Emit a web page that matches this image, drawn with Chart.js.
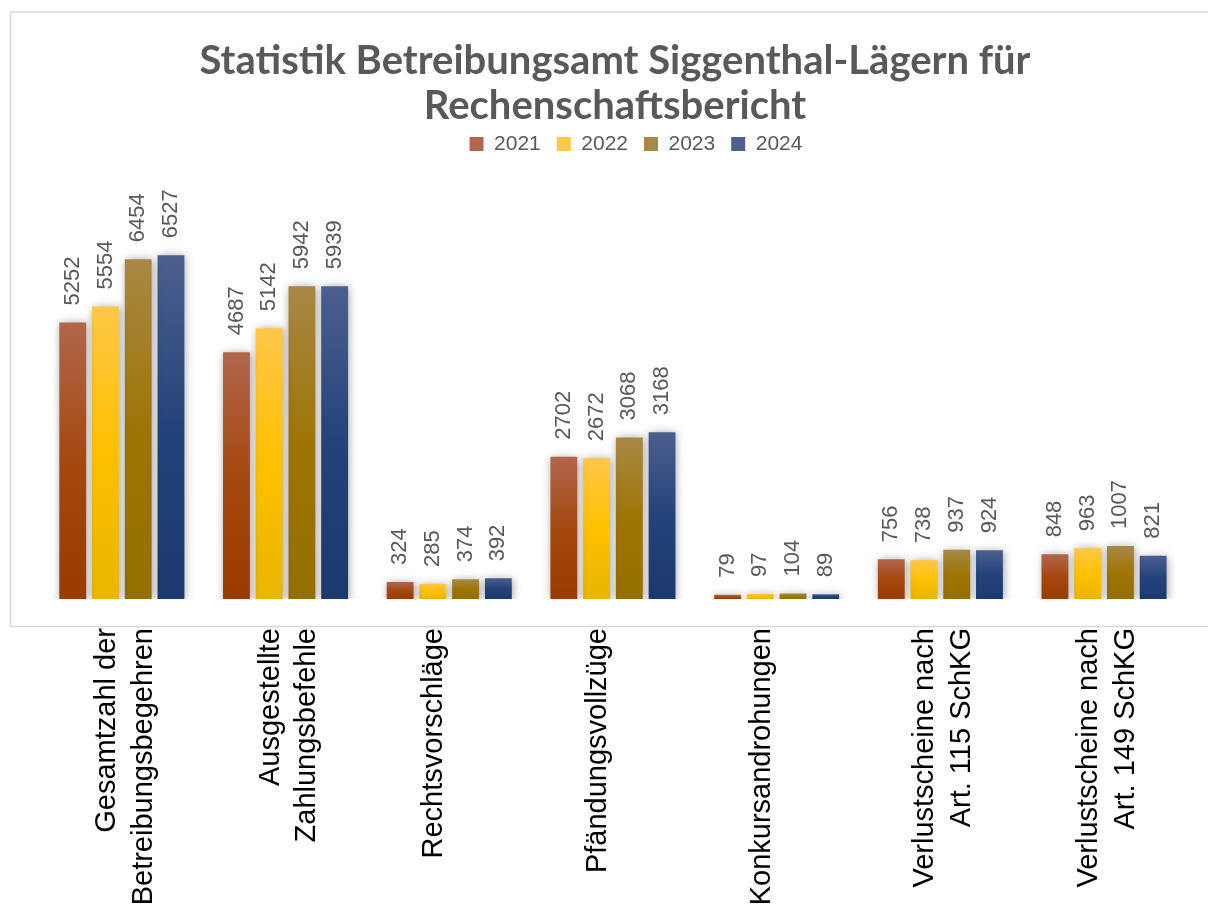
<!DOCTYPE html>
<html>
<head>
<meta charset="utf-8">
<script src="https://cdn.jsdelivr.net/npm/chart.js@4.4.1/dist/chart.umd.min.js"></script>
<style>
  html, body { margin: 0; padding: 0; background: #fff; }
  #wrap { width: 1208px; height: 906px; }
</style>
</head>
<body>
<div id="wrap"><canvas id="betreibungChart" width="1208" height="906"></canvas></div>
<script>
const categories = [
  ["Gesamtzahl der", "Betreibungsbegehren"],
  ["Ausgestellte", "Zahlungsbefehle"],
  "Rechtsvorschläge",
  "Pfändungsvollzüge",
  "Konkursandrohungen",
  ["Verlustscheine nach", "Art. 115 SchKG"],
  ["Verlustscheine nach", "Art. 149 SchKG"]
]
const years = ["2021", "2022", "2023", "2024"]
const values2021 = [5252, 4687, 324, 2702, 79, 756, 848]
const values2022 = [5554, 5142, 285, 2672, 97, 738, 963]
const values2023 = [6454, 5942, 374, 3068, 104, 937, 1007]
const values2024 = [6527, 5939, 392, 3168, 89, 924, 821]

// top tint, base, bottom shade
const shades = [
  ["#B1664C", "#A5480F", "#9A3B00"],
  ["#FFC748", "#FFC000", "#E8B600"],
  ["#A88845", "#9E7505", "#946F00"],
  ["#4C5F8F", "#24437A", "#1B396E"]
]

const gradientFill = (idx) => (context) => {
  const base = shades[idx][1]
  if (context.type !== "data") return base
  const chart = context.chart
  const y = chart.scales.y
  if (!y) return base
  const top = y.getPixelForValue(context.raw)
  const bottom = y.getPixelForValue(0)
  if (!isFinite(top) || bottom - top < 1) return base
  const g = chart.ctx.createLinearGradient(0, top, 0, bottom)
  g.addColorStop(0, shades[idx][0])
  g.addColorStop(0.5, shades[idx][1])
  g.addColorStop(1, shades[idx][2])
  return g
}

const seriesValues = [values2021, values2022, values2023, values2024]

const chartFrame = {
  id: "chartFrame",
  afterLayout(chart) {
    // legend sits a bit right of centre in the original
    chart.legend.left += 21
    chart.legend.right += 21
  },
  beforeDraw(chart) {
    const ctx = chart.ctx
    ctx.save()
    ctx.fillStyle = "#ffffff"
    ctx.fillRect(0, 0, chart.width, chart.height)
    ctx.strokeStyle = "#d9d9d9"
    ctx.lineWidth = 1.5
    ctx.strokeRect(10.5, 12, chart.width + 10, 614.5)
    ctx.restore()
  }
}

const barShadow = {
  id: "barShadow",
  beforeDatasetsDraw(chart) {
    const ctx = chart.ctx
    ctx.save()
    ctx.shadowColor = "rgba(0, 0, 0, 0.38)"
    ctx.shadowBlur = 9
    ctx.shadowOffsetX = 1
    ctx.shadowOffsetY = 1
  },
  afterDatasetsDraw(chart) {
    chart.ctx.restore()
  }
}

const valueLabels = {
  id: "valueLabels",
  afterDatasetsDraw(chart) {
    const ctx = chart.ctx
    ctx.save()
    ctx.font = "22px 'Liberation Sans', Arial, sans-serif"
    ctx.fillStyle = "#595959"
    ctx.textAlign = "left"
    ctx.textBaseline = "middle"
    chart.data.datasets.forEach((ds, i) => {
      const meta = chart.getDatasetMeta(i)
      meta.data.forEach((bar, j) => {
        ctx.save()
        ctx.translate(bar.x, bar.y - 17)
        ctx.rotate(-Math.PI / 2)
        ctx.fillText(String(ds.data[j]), 0, 0)
        ctx.restore()
      })
    })
    ctx.restore()
  }
}

const chartData = {
  labels: categories,
  datasets: years.map((year, i) => ({
    label: year,
    data: seriesValues[i],
    backgroundColor: gradientFill(i),
    borderWidth: 0,
    categoryPercentage: 0.8,
    barPercentage: 0.82
  }))
}

const chartConfig = {
  type: "bar",
  data: chartData,
  plugins: [chartFrame, barShadow, valueLabels],
  options: {
    responsive: false,
    animation: false,
    layout: {
      padding: { top: 39, left: 40, right: 18, bottom: 0 }
    },
    scales: {
      x: {
        grid: { display: false, drawTicks: false },
        border: { display: false },
        ticks: {
          autoSkip: false,
          maxRotation: 90,
          minRotation: 90,
          padding: 29,
          labelOffset: -15,
          color: "#000000",
          font: { family: "'Liberation Sans', Arial, sans-serif", size: 29, lineHeight: 1.27 }
        },
        afterFit: (scale) => { scale.height = 307 }
      },
      y: {
        display: false,
        min: 0,
        max: 8250
      }
    },
    plugins: {
      title: {
        display: true,
        text: ["Statistik Betreibungsamt Siggenthal-Lägern für", "Rechenschaftsbericht"],
        color: "#595959",
        font: { family: "Lato, 'Open Sans', sans-serif", size: 40, weight: "bold", lineHeight: 1.12 },
        padding: { top: 0, bottom: -11 }
      },
      legend: {
        display: true,
        position: "top",
        labels: {
          color: "#595959",
          boxWidth: 14,
          boxHeight: 14,
          padding: 16,
          font: { family: "'Liberation Sans', Arial, sans-serif", size: 21 }
        }
      },
      tooltip: { enabled: false }
    }
  }
}

const betreibungChart = new Chart(document.getElementById("betreibungChart"), chartConfig)
</script>
</body>
</html>
